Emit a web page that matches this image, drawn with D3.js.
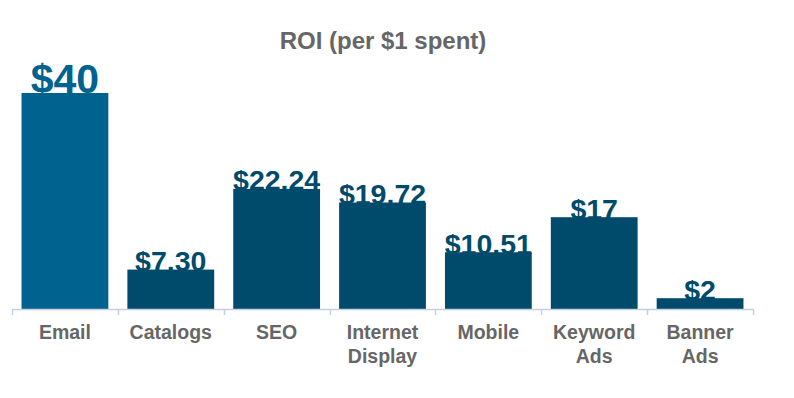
<!DOCTYPE html>
<html>
<head>
<meta charset="utf-8">
<script src="https://cdn.jsdelivr.net/npm/d3@7"></script>
<style>
  body { margin: 0; background: #fff; }
  svg { display: block; font-family: "Liberation Sans", Arial, sans-serif; }
</style>
</head>
<body>
<div id="chart"></div>
<script>
  // chart data
  var categories = ['Email', 'Catalogs', 'SEO', 'Internet Display', 'Mobile', 'Keyword Ads', 'Banner Ads'];
  var tickLabels = [['Email'], ['Catalogs'], ['SEO'], ['Internet', 'Display'], ['Mobile'], ['Keyword', 'Ads'], ['Banner', 'Ads']];
  var roiValues = [40, 7.30, 22.24, 19.72, 10.51, 17, 2];
  var valueLabels = ['$40', '$7.30', '$22.24', '$19.72', '$10.51', '$17', '$2'];

  const WIDTH = 794;
  const HEIGHT = 398;
  const BASE = 309;
  const TOP = 93;
  const LEFT = 12;
  const RIGHT = 753;
  const HILITE = '#00628f';
  const BAR_COLOR = '#004b6b';

  var data = categories.map(function(c, i) {
    return { name: c, value: roiValues[i], label: valueLabels[i], lines: tickLabels[i] };
  });

  var x = d3.scaleBand()
    .domain(categories)
    .range([LEFT, RIGHT])
    .paddingInner(0.18)
    .paddingOuter(0.09);

  var y = d3.scaleLinear()
    .domain([0, d3.max(roiValues)])
    .range([BASE, TOP]);

  var svg = d3.select('#chart').append('svg')
    .attr('width', WIDTH)
    .attr('height', HEIGHT);

  svg.append('text')
    .attr('x', 383)
    .attr('y', 49)
    .attr('text-anchor', 'middle')
    .style('font-size', '24px')
    .style('font-weight', 'bold')
    .style('fill', '#666666')
    .text('ROI (per $1 spent)');

  // value labels go under the bars so the bar top clips them a little
  svg.selectAll('.value')
    .data(data)
    .enter().append('text')
    .attr('class', 'value')
    .attr('x', function(d) { return x(d.name) + x.bandwidth() / 2; })
    .attr('y', function(d, i) { return y(d.value) + (i === 0 ? 0 : 1.5); })
    .attr('text-anchor', 'middle')
    .style('font-weight', 'bold')
    .style('font-size', function(d, i) { return i === 0 ? '41px' : '28.5px'; })
    .style('fill', function(d, i) { return i === 0 ? HILITE : BAR_COLOR; })
    .text(function(d) { return d.label; });

  svg.selectAll('.bar')
    .data(data)
    .enter().append('rect')
    .attr('class', 'bar')
    .attr('x', function(d) { return x(d.name); })
    .attr('width', x.bandwidth())
    .attr('y', function(d) { return y(d.value); })
    .attr('height', function(d) { return BASE - y(d.value); })
    .style('fill', function(d, i) { return i === 0 ? HILITE : BAR_COLOR; });

  // axis line with ticks at the band edges
  var step = x.step();
  var edges = categories.map(function(c) { return x(c) - step * x.paddingInner() / 2; });
  edges.push(RIGHT);

  svg.append('line')
    .attr('x1', LEFT).attr('x2', RIGHT)
    .attr('y1', BASE + 0.5).attr('y2', BASE + 0.5)
    .style('stroke', '#c3d0df')
    .style('stroke-width', 1.5);

  svg.selectAll('.tick')
    .data(edges)
    .enter().append('line')
    .attr('class', 'tick')
    .attr('x1', function(d) { return Math.round(d) + 0.5; })
    .attr('x2', function(d) { return Math.round(d) + 0.5; })
    .attr('y1', BASE)
    .attr('y2', BASE + 6)
    .style('stroke', '#c3d0df')
    .style('stroke-width', 1.5);

  var cat = svg.selectAll('.cat')
    .data(data)
    .enter().append('text')
    .attr('class', 'cat')
    .attr('text-anchor', 'middle')
    .style('font-size', '19.5px')
    .style('font-weight', 'bold')
    .style('fill', '#666666');

  cat.selectAll('tspan')
    .data(function(d) {
      return d.lines.map(function(l) { return { text: l, cx: x(d.name) + x.bandwidth() / 2 }; });
    })
    .enter().append('tspan')
    .attr('x', function(d) { return d.cx; })
    .attr('y', function(d, i) { return 339 + i * 23.5; })
    .text(function(d) { return d.text; });
</script>
</body>
</html>
